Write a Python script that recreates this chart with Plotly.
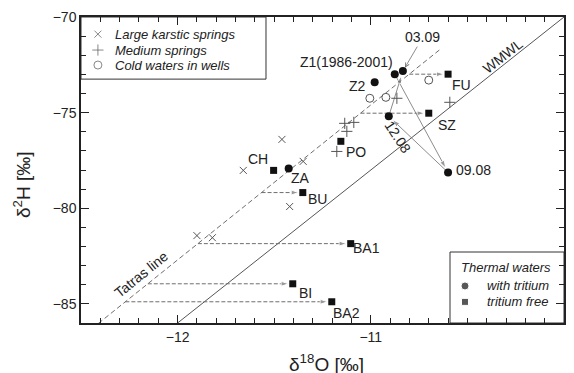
import plotly.graph_objects as go

# ---------------- data ----------------
# Large karstic springs (x)
ks_x = [-11.46, -11.35, -11.66, -11.42, -11.90, -11.82]
ks_y = [-76.40, -77.55, -78.02, -79.91, -81.43, -81.54]
# Medium springs (+)
ms_x = [-11.135, -11.088, -11.124, -11.176, -10.865, -10.591]
ms_y = [-75.56, -75.51, -75.98, -77.03, -74.25, -74.46]
# Cold waters in wells (o)
cw_x = [-11.005, -10.922, -10.70]
cw_y = [-74.25, -74.20, -73.30]
# Thermal waters with tritium
tw_names = ["Z1(1986-2001)", "03.09", "Z2", "12.08", "09.08", "ZA"]
tw_x = [-10.876, -10.834, -10.98, -10.907, -10.60, -11.425]
tw_y = [-72.99, -72.83, -73.41, -75.19, -78.13, -77.92]
# Thermal waters tritium free
tf_names = ["FU", "SZ", "PO", "CH", "BU", "BA1", "BI", "BA2"]
tf_x = [-10.60, -10.70, -11.155, -11.503, -11.352, -11.104, -11.404, -11.202]
tf_y = [-72.99, -75.03, -76.50, -78.02, -79.18, -81.85, -83.95, -84.89]
# points projected horizontally onto the Tatras line
projected = ["FU", "SZ", "BU", "BA1", "BI", "BA2"]
# Z1 temporal sequence (from -> to)
sequence = [("Z1(1986-2001)", "09.08"), ("09.08", "12.08"), ("12.08", "03.09")]

# lines
wmwl_slope, wmwl_int = 8.0, 10.0
wmwl_x = [-12.0, -10.0]
tat_slope, tat_int = 8.1, 14.5
tat_x = [-12.41, -10.64]

x_range = [-12.5, -10]
y_range = [-86, -70]
x_ticks = [-12, -11, -10]
y_ticks = [-85, -80, -75, -70]

# ---------------- style ----------------
FONT = "Liberation Sans, Arial, sans-serif"
TXT = "#222222"
GRAY = "#6e6e6e"
DGRAY = "#555555"

# label offsets in pixels (dx right, dy up)
label_off = {
    "Z1(1986-2001)": (-48, 12), "Z2": (-17, -4), "12.08": (9, -21),
    "09.08": (25, 2), "ZA": (12, -10),
    "FU": (13, -11), "SZ": (18, -12), "PO": (15, -11), "CH": (-16, 11),
    "BU": (15, -6), "BA1": (16, -4), "BI": (13, -9), "BA2": (15, -11),
}


def fx(f):  # plot-area fraction -> x value
    return x_range[0] + f * (x_range[1] - x_range[0])


def fy(f):  # plot-area fraction -> y value
    return y_range[0] + f * (y_range[1] - y_range[0])


fig = go.Figure()

# WMWL
fig.add_trace(go.Scatter(x=wmwl_x, y=[wmwl_slope * v + wmwl_int for v in wmwl_x],
                         mode="lines", line=dict(color=DGRAY, width=1), showlegend=False,
                         hoverinfo="skip"))
# Tatras line
fig.add_trace(go.Scatter(x=tat_x, y=[tat_slope * v + tat_int for v in tat_x],
                         mode="lines", line=dict(color=GRAY, width=1, dash="5px,3px"),
                         showlegend=False, hoverinfo="skip"))

annotations = []

# horizontal dashed projection arrows onto the Tatras line
for nm in projected:
    i = tf_names.index(nm)
    yv = tf_y[i]
    x0 = (yv - tat_int) / tat_slope
    fig.add_trace(go.Scatter(x=[x0, tf_x[i]], y=[yv, yv], mode="lines+markers",
                             line=dict(color=GRAY, width=1, dash="4px,2px"),
                             marker=dict(symbol=["circle", "arrow"], angleref="previous",
                                         size=[1, 8], standoff=4, color=GRAY),
                             showlegend=False, hoverinfo="skip"))

# sequence arrows (solid)
for a, b in sequence:
    ia, ib = tw_names.index(a), tw_names.index(b)
    fig.add_trace(go.Scatter(x=[tw_x[ia], tw_x[ib]], y=[tw_y[ia], tw_y[ib]],
                             mode="lines+markers", line=dict(color=GRAY, width=0.8),
                             marker=dict(symbol=["circle", "arrow"], angleref="previous",
                                         size=[1, 8], standoff=5, color=GRAY),
                             showlegend=False, hoverinfo="skip"))

# markers
fig.add_trace(go.Scatter(x=ks_x, y=ks_y, mode="markers",
                         marker=dict(symbol="x-thin-open", size=7, color=DGRAY,
                                     line=dict(color=DGRAY, width=1)), showlegend=False))
fig.add_trace(go.Scatter(x=ms_x, y=ms_y, mode="markers",
                         marker=dict(symbol="cross-thin-open", size=8, color=DGRAY,
                                     line=dict(color=DGRAY, width=1)), showlegend=False))
fig.add_trace(go.Scatter(x=cw_x, y=cw_y, mode="markers",
                         marker=dict(symbol="circle-open", size=8, color=DGRAY,
                                     line=dict(color=DGRAY, width=1)), showlegend=False))
fig.add_trace(go.Scatter(x=tw_x, y=tw_y, mode="markers",
                         marker=dict(symbol="circle", size=8, color="#111111"), showlegend=False))
fig.add_trace(go.Scatter(x=tf_x, y=tf_y, mode="markers",
                         marker=dict(symbol="square", size=7, color="#111111"), showlegend=False))

# point labels
for names, xs, ys in ((tw_names, tw_x, tw_y), (tf_names, tf_x, tf_y)):
    for nm, xv, yv in zip(names, xs, ys):
        if nm == "03.09":
            annotations.append(dict(x=xv, y=yv, ax=20, ay=-34, text=nm, showarrow=True,
                                    arrowhead=5, arrowsize=1, arrowwidth=0.8,
                                    arrowcolor=GRAY, standoff=4,
                                    font=dict(family=FONT, size=14, color=TXT)))
            continue
        dx, dy = label_off[nm]
        annotations.append(dict(x=xv, y=yv, text=nm, showarrow=False, xshift=dx, yshift=dy,
                                xanchor="center", yanchor="middle",
                                textangle=57 if nm == "12.08" else 0,
                                font=dict(family=FONT, size=14, color=TXT)))

# line labels
wx = -10.316
annotations.append(dict(x=wx, y=wmwl_slope * wx + wmwl_int, text="WMWL", showarrow=False,
                        xanchor="center", yanchor="middle",
                        textangle=-38, yshift=9, font=dict(family=FONT, size=14, color=TXT)))
tx = -12.187
annotations.append(dict(x=tx, y=tat_slope * tx + tat_int, text="Tatras line", showarrow=False,
                        xanchor="center", yanchor="middle",
                        textangle=-39, yshift=15, font=dict(family=FONT, size=14, color=TXT)))

# axis titles
annotations.append(dict(xref="paper", yref="paper", x=0.509, y=-0.131,
                        xanchor="center", yanchor="middle",
                        text="δ<sup>18</sup>O [‰]", showarrow=False,
                        font=dict(family=FONT, size=19, color=TXT)))
annotations.append(dict(xref="paper", yref="paper", x=-0.122, y=0.451, textangle=-90,
                        xanchor="center", yanchor="middle",
                        text="δ<sup>2</sup>H [‰]", showarrow=False,
                        font=dict(family=FONT, size=19, color=TXT)))

# ---------------- legends (drawn as keys) ----------------
leg1 = [("Large karstic springs", "x-thin-open", 7, 0.944),
        ("Medium springs", "cross-thin-open", 8, 0.892),
        ("Cold waters in wells", "circle-open", 8, 0.843)]
leg2 = [("with tritium", "circle", 8, 0.121),
        ("tritium free", "square", 7, 0.069)]
fig.add_trace(go.Scatter(x=[fx(0.035)] * 3, y=[fy(v[3]) for v in leg1], mode="markers",
                         marker=dict(symbol=[v[1] for v in leg1], size=[v[2] for v in leg1],
                                     color=DGRAY, line=dict(color=DGRAY, width=1)),
                         showlegend=False, hoverinfo="skip"))
fig.add_trace(go.Scatter(x=[fx(0.795)] * 2, y=[fy(v[3]) for v in leg2], mode="markers",
                         marker=dict(symbol=[v[1] for v in leg2], size=[v[2] for v in leg2],
                                     color="#111111"),
                         showlegend=False, hoverinfo="skip"))
for lab, _, _, yy in leg1:
    annotations.append(dict(xref="paper", yref="paper", x=0.066, y=yy, xanchor="left",
                            yanchor="middle", text=f"<i>{lab}</i>", showarrow=False,
                            font=dict(family=FONT, size=13, color=TXT)))
for lab, _, _, yy in leg2:
    annotations.append(dict(xref="paper", yref="paper", x=0.836, y=yy, xanchor="left",
                            yanchor="middle", text=f"<i>{lab}</i>", showarrow=False,
                            font=dict(family=FONT, size=13, color=TXT)))
annotations.append(dict(xref="paper", yref="paper", x=0.782, y=0.183, xanchor="left",
                        yanchor="middle", text="<i>Thermal waters</i>", showarrow=False,
                        font=dict(family=FONT, size=13, color=TXT)))

shapes = [
    dict(type="rect", xref="paper", yref="paper", x0=0, x1=0.383, y0=0.797, y1=1,
         line=dict(color="#333333", width=1), fillcolor="white", layer="below"),
    dict(type="rect", xref="paper", yref="paper", x0=0.764, x1=1, y0=0, y1=0.232,
         line=dict(color="#333333", width=1), fillcolor="white", layer="below"),
]

axis_common = dict(showgrid=False, zeroline=False, showline=True, linecolor="#222222",
                   linewidth=1.5, mirror="allticks", ticks="inside", ticklen=8,
                   tickwidth=1, tickcolor="#222222", automargin=False,
                   tickfont=dict(family=FONT, size=14, color=TXT))

# page body has an 8px margin: figure sized to fill the remaining window
fig.update_layout(
    width=566, height=365,
    margin=dict(l=73, r=10, t=9, b=50),
    paper_bgcolor="white", plot_bgcolor="white",
    showlegend=False,
    xaxis=dict(range=x_range, tickvals=x_ticks,
               minor=dict(dtick=0.1, ticks="inside", ticklen=5, tickcolor="#222222"),
               **axis_common),
    yaxis=dict(range=y_range, tickvals=y_ticks,
               minor=dict(dtick=1, ticks="inside", ticklen=5, tickcolor="#222222"),
               **axis_common),
    annotations=annotations,
    shapes=shapes,
)

fig.write_html("out.html")
